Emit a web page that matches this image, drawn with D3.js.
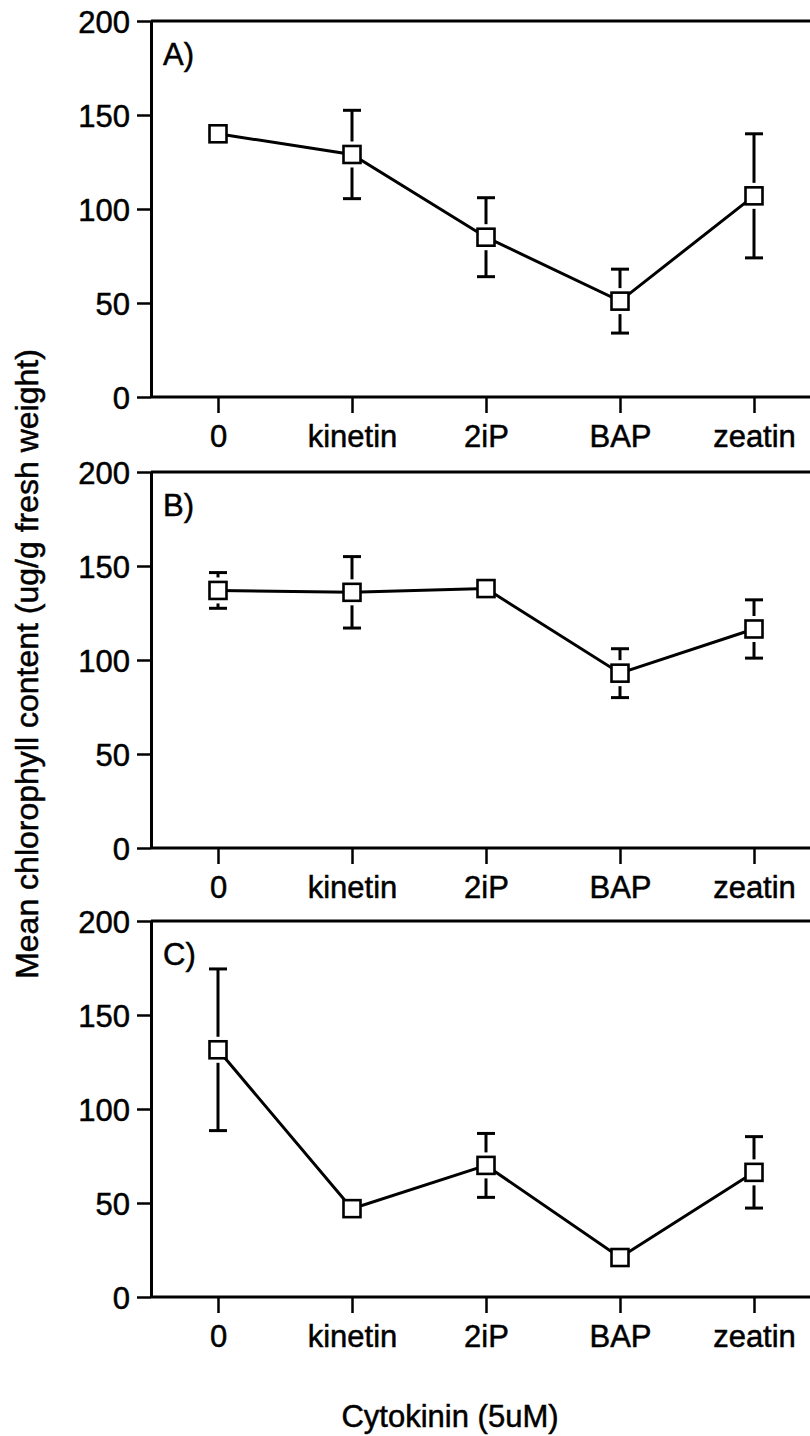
<!DOCTYPE html>
<html>

<head>
    <meta http-equiv="Content-Type" content="text/html; charset=utf-8" />
    <title>Chlorophyll</title>
    <style type="text/css">
        * {
            margin: 0;
            padding: 0
        }

        html,
        body {
            width: 810px;
            height: 1436px;
            background: #fff;
            overflow: hidden;
        }

        text {
            font-family: "Liberation Sans", Arial, sans-serif;
            fill: #000;
            stroke: #000;
            stroke-width: 0.5px;
        }
    </style>
</head>

<body>
    <svg id="chart" width="810" height="1436"></svg>
    <script src="https://cdn.jsdelivr.net/npm/d3@7"></script>
    <script>
        // data
        const categories = ["0", "kinetin", "2iP", "BAP", "zeatin"];
        const yTicks = [0, 50, 100, 150, 200];
        const panelNames = ["A)", "B)", "C)"];
        const meanA = [140, 129, 85, 51, 107];
        const errA = [0, 23.5, 21, 17, 33];
        const meanB = [137, 136, 138, 93, 116.5];
        const errB = [9.5, 19, 0, 13, 15.5];
        const meanC = [131.5, 47, 70, 21, 66.3];
        const errC = [43, 0, 17, 0, 19];

        const panels = [
            { name: panelNames[0], mean: meanA, err: errA },
            { name: panelNames[1], mean: meanB, err: errB },
            { name: panelNames[2], mean: meanC, err: errC }
        ];

        const svg = d3.select("#chart");
        const left = 151;
        const rightEdge = 830; // frame runs off the picture
        const panelTop = [21, 472, 921];
        const panelH = 376;
        const fontSize = 31;

        const x = d3.scalePoint().domain(categories).range([218, 754]);

        panels.forEach((p, k) => {
            const y = d3.scaleLinear().domain([0, 200]).range([panelTop[k] + panelH, panelTop[k]]);
            const g = svg.append("g");

            // frame: top line and bottom axis line
            g.append("line")
                .attr("x1", left).attr("x2", rightEdge)
                .attr("y1", y(200)).attr("y2", y(200))
                .attr("stroke", "#000").attr("stroke-width", 3);
            g.append("line")
                .attr("x1", left).attr("x2", rightEdge)
                .attr("y1", y(0)).attr("y2", y(0))
                .attr("stroke", "#000").attr("stroke-width", 3);

            // y axis
            const ya = g.append("g")
                .attr("transform", `translate(${left},0)`)
                .call(d3.axisLeft(y).tickValues(yTicks).tickSize(14).tickSizeOuter(0).tickPadding(7));
            ya.select(".domain").attr("stroke-width", 3).attr("stroke", "#000");
            ya.selectAll(".tick line").attr("stroke-width", 2.5).attr("stroke", "#000");
            ya.selectAll(".tick text")
                .style("font-size", fontSize + "px")
                .attr("dy", "0.36em");

            // x axis
            const xa = g.append("g")
                .attr("transform", `translate(0,${y(0)})`)
                .call(d3.axisBottom(x).tickSize(16).tickSizeOuter(0));
            xa.select(".domain").remove();
            xa.selectAll(".tick line").attr("stroke-width", 2.5).attr("stroke", "#000");
            xa.selectAll(".tick text")
                .style("font-size", fontSize + "px")
                .attr("y", 50)
                .attr("dy", 0);

            // panel label
            g.append("text")
                .attr("x", 163)
                .attr("y", panelTop[k] + 44)
                .style("font-size", fontSize + "px")
                .text(p.name);

            const pts = categories.map((c, i) => ({ c: c, m: p.mean[i], e: p.err[i] }));

            // connecting line
            const line = d3.line().x(d => x(d.c)).y(d => y(d.m));
            g.append("path")
                .datum(pts)
                .attr("d", line)
                .attr("fill", "none")
                .attr("stroke", "#000")
                .attr("stroke-width", 3);

            // error bars (leave a small gap round the marker)
            const gap = 13;
            const cap = 9;
            pts.filter(d => d.e > 0).forEach(d => {
                const cx = x(d.c);
                const cy = y(d.m);
                const top = y(d.m + d.e);
                const bot = y(d.m - d.e);
                if (cy - top > gap) {
                    g.append("line").attr("x1", cx).attr("x2", cx).attr("y1", top).attr("y2", cy - gap)
                        .attr("stroke", "#000").attr("stroke-width", 3);
                }
                if (bot - cy > gap) {
                    g.append("line").attr("x1", cx).attr("x2", cx).attr("y1", cy + gap).attr("y2", bot)
                        .attr("stroke", "#000").attr("stroke-width", 3);
                }
                [top, bot].forEach(v => {
                    g.append("line").attr("x1", cx - cap).attr("x2", cx + cap).attr("y1", v).attr("y2", v)
                        .attr("stroke", "#000").attr("stroke-width", 3);
                });
            });

            // open square markers
            const s = 17;
            g.selectAll("rect.pt")
                .data(pts)
                .join("rect")
                .attr("class", "pt")
                .attr("x", d => x(d.c) - s / 2)
                .attr("y", d => y(d.m) - s / 2)
                .attr("width", s)
                .attr("height", s)
                .attr("fill", "#fff")
                .attr("stroke", "#000")
                .attr("stroke-width", 2.6);
        });

        // axis titles
        svg.append("text")
            .attr("transform", "translate(38,664) rotate(-90)")
            .attr("text-anchor", "middle")
            .style("font-size", "32px")
            .text("Mean chlorophyll content (ug/g fresh weight)");

        svg.append("text")
            .attr("x", 450)
            .attr("y", 1427)
            .attr("text-anchor", "middle")
            .style("font-size", fontSize + "px")
            .text("Cytokinin (5uM)");
    </script>
</body>

</html>
